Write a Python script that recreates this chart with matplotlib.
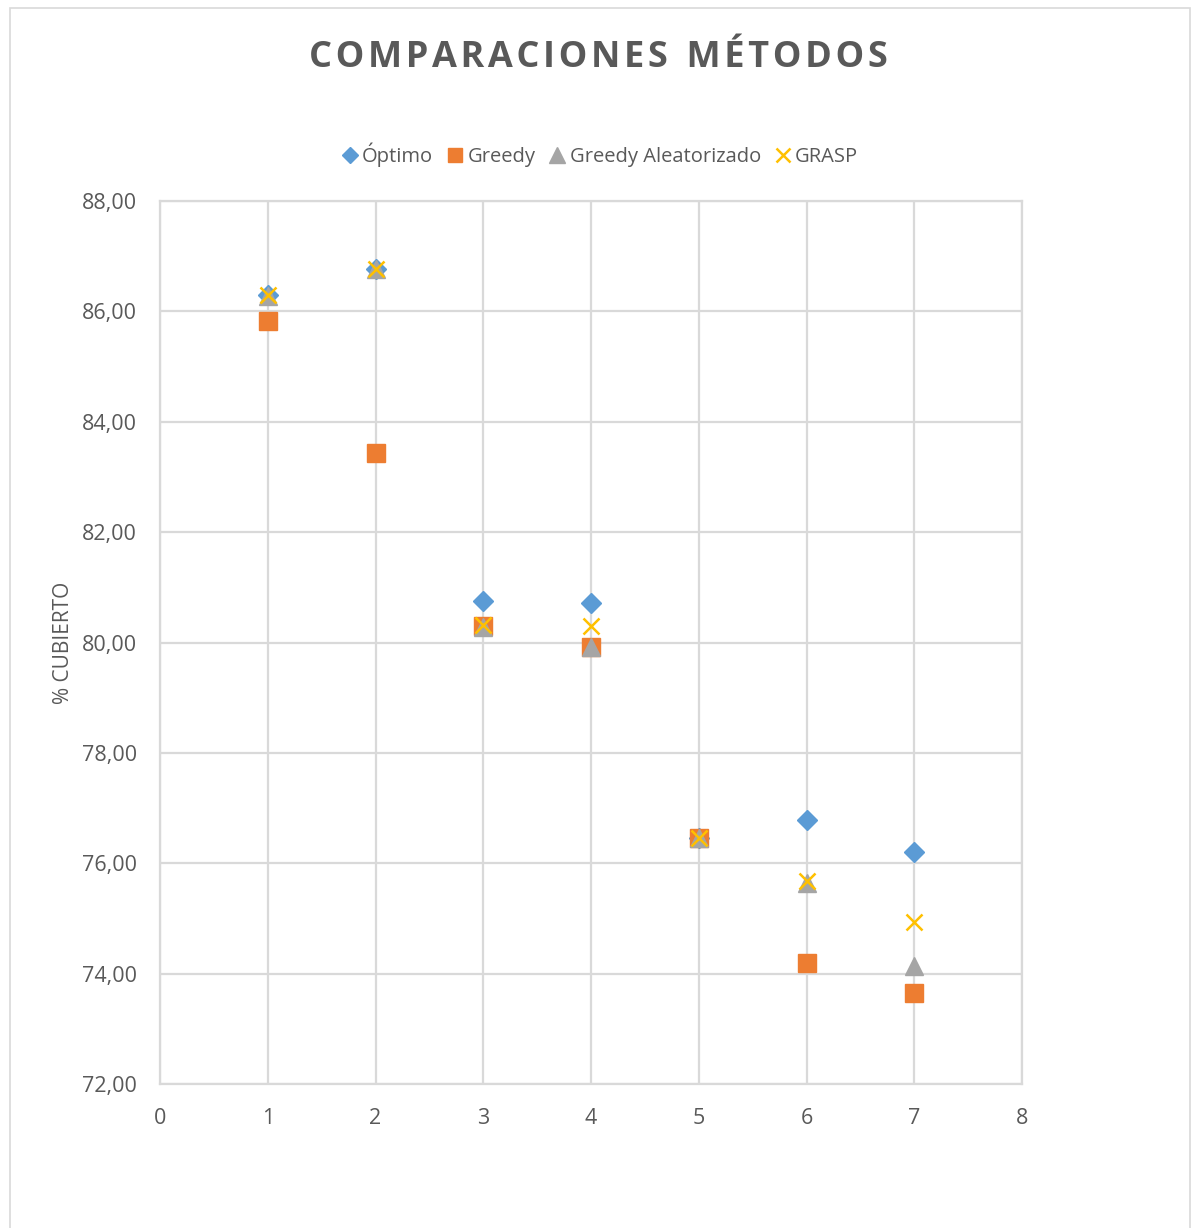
import matplotlib.pyplot as plt
from matplotlib.patches import Rectangle

instancias = [1, 2, 3, 4, 5, 6, 7]
optimo = [86.29, 86.77, 80.75, 80.72, 76.45, 76.78, 76.20]
greedy = [85.83, 83.44, 80.30, 79.92, 76.45, 74.19, 73.64]
greedy_aleat = [86.28, 86.76, 80.28, 79.92, 76.45, 75.65, 74.13]
grasp = [86.29, 86.77, 80.31, 80.30, 76.45, 75.68, 74.93]

x_ticks = [0, 1, 2, 3, 4, 5, 6, 7, 8]
y_ticks = [72, 74, 76, 78, 80, 82, 84, 86, 88]

gris = '#595959'
rejilla = '#D9D9D9'
plt.rcParams['font.family'] = ['Open Sans', 'DejaVu Sans']

fig = plt.figure(figsize=(11.97, 12.28), dpi=100)
fig.patches.append(Rectangle((10 / 1197, -0.05), 1180 / 1197, 1.05 - 8 / 1228,
                             transform=fig.transFigure, fill=False,
                             edgecolor=rejilla, linewidth=1.2))

ax = fig.add_axes([160 / 1197, 1 - 1084 / 1228, 862 / 1197, 883 / 1228])

ax.plot(instancias, optimo, 'D', color='#5B9BD5', markersize=10, label='Óptimo', zorder=3)
ax.plot(instancias, greedy, 's', color='#ED7D31', markersize=12.5, label='Greedy', zorder=3)
ax.plot(instancias, greedy_aleat, '^', color='#A5A5A5', markersize=13, label='Greedy Aleatorizado', zorder=3)
ax.plot(instancias, grasp, 'x', color='#FFC000', markersize=12, markeredgewidth=1.8, label='GRASP', zorder=4)

ax.set_xlim(0, 8)
ax.set_ylim(72, 88)
ax.set_xticks(x_ticks)
ax.set_yticks(y_ticks)
ax.set_yticklabels([f'{v:.2f}'.replace('.', ',') for v in y_ticks])
ax.grid(True, color=rejilla, linewidth=1.6, zorder=0)
ax.set_axisbelow(True)
for s in ax.spines.values():
    s.set_color(rejilla)
    s.set_linewidth(1.6)
ax.tick_params(length=0, labelsize=15.5, labelcolor=gris)
ax.tick_params(axis='y', pad=16.5)
ax.tick_params(axis='x', pad=17)
ax.set_ylabel('% CUBIERTO', fontsize=15, color=gris)
ax.yaxis.set_label_coords(-86 / 862, 0.5)

fig.text(598 / 1197, 1 - 58 / 1228, 'C O M P A R A C I O N E S   M É T O D O S'.replace(' ', '\u200a').replace('\u200a\u200a\u200a', '  '),
         ha='center', va='center', fontsize=26, fontweight='bold', color=gris)

fig.legend(loc='center', bbox_to_anchor=(598 / 1197, 1 - 155 / 1228), ncol=4, frameon=False,
           fontsize=14.5, labelcolor=gris, handletextpad=0.0, columnspacing=0.5,
           handlelength=1.2, markerscale=0.85)

fig.savefig('out.png', dpi=100)
